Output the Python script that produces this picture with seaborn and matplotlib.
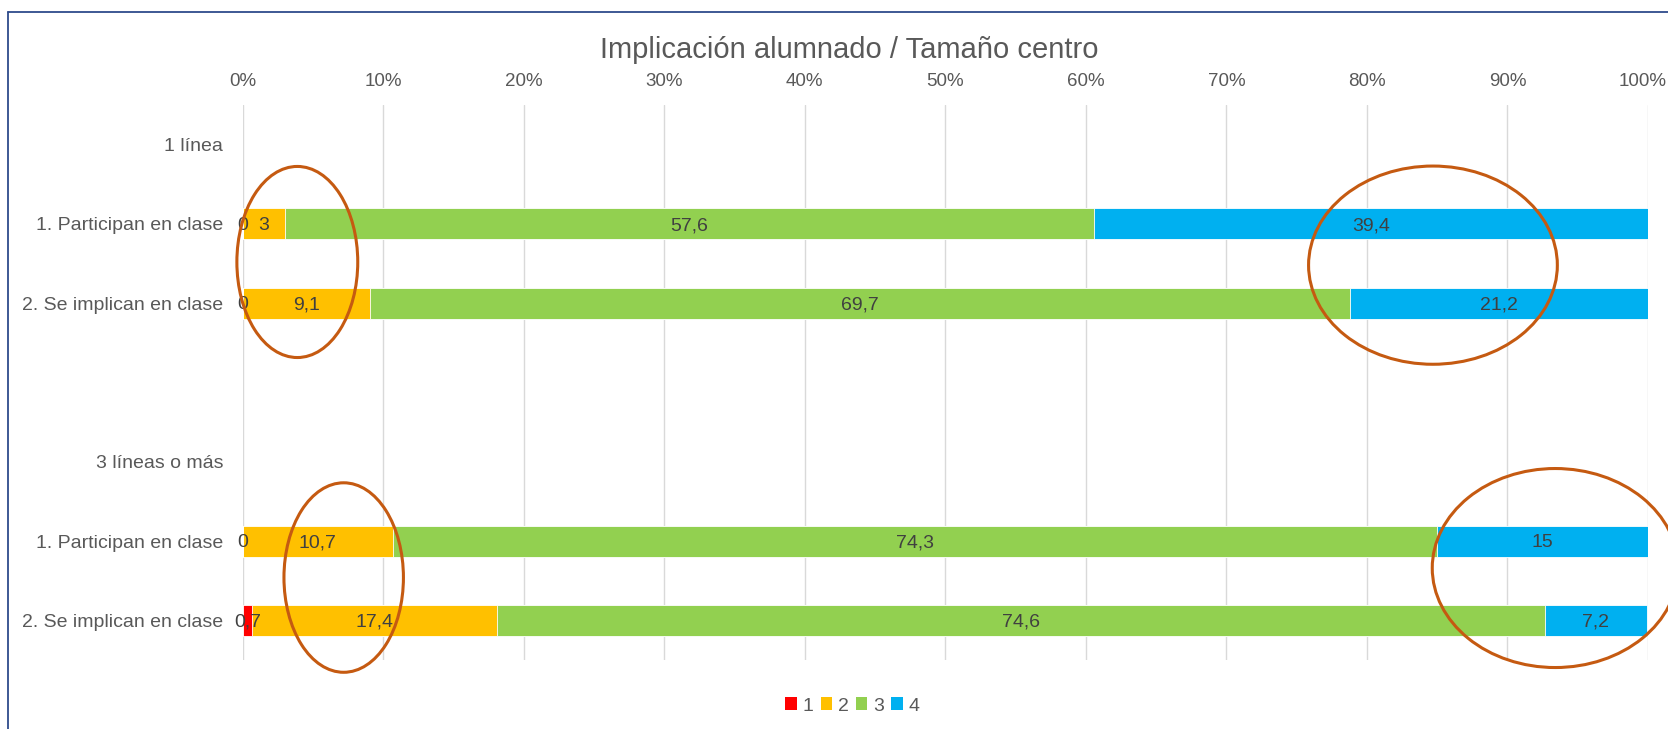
import numpy as np
import pandas as pd
import matplotlib.pyplot as plt
import matplotlib.transforms as mtransforms
import seaborn as sns
from matplotlib.patches import Ellipse, Patch
from matplotlib.lines import Line2D

# Data (percent of answers per level)
ROW_LABELS = ["1 línea", "1. Participan en clase", "2. Se implican en clase", "",
              "3 líneas o más", "1. Participan en clase", "2. Se implican en clase"]
LEVELS = ["1", "2", "3", "4"]
LEVEL_1 = [np.nan, 0, 0, np.nan, np.nan, 0, 0.7]
LEVEL_2 = [np.nan, 3, 9.1, np.nan, np.nan, 10.7, 17.4]
LEVEL_3 = [np.nan, 57.6, 69.7, np.nan, np.nan, 74.3, 74.6]
LEVEL_4 = [np.nan, 39.4, 21.2, np.nan, np.nan, 15, 7.2]
COLORS = ["#FF0000", "#FFC000", "#92D050", "#00B0F0"]

# highlight rings drawn over the chart (x in %, y in rows)
RINGS = [(3.9, 1.48, 8.6, 2.41), (84.7, 1.52, 17.7, 2.50),
         (7.2, 5.46, 8.5, 2.39), (93.4, 5.34, 17.5, 2.51)]

sns.set_theme(style="white")
plt.rcParams["font.family"] = ["Liberation Sans", "DejaVu Sans"]
GREY = "#595959"

vals = np.array([LEVEL_1, LEVEL_2, LEVEL_3, LEVEL_4])
cum = np.cumsum(vals, axis=0)  # empty header rows stay NaN -> no bar
df = pd.DataFrame({"row": range(len(ROW_LABELS))})
for i, lvl in enumerate(LEVELS):
    df["cum" + lvl] = cum[i]

fig = plt.figure(figsize=(16.68, 7.29), dpi=100)
ax = fig.add_axes([242.5 / 1668, 1 - 660 / 729, (1648 - 242.5) / 1668, 555 / 729])

# stacked bars: draw cumulative totals from the right-most level backwards
for i in reversed(range(len(LEVELS))):
    sns.barplot(data=df, x="cum" + LEVELS[i], y="row", orient="h", order=list(range(len(ROW_LABELS))),
                color=COLORS[i], saturation=1, width=0.39, errorbar=None,
                edgecolor="white", linewidth=0.6, ax=ax)

# data labels centred in each segment
for r in range(len(ROW_LABELS)):
    if np.isnan(vals[0, r]):
        continue
    for i in range(len(LEVELS)):
        v = vals[i, r]
        txt = f"{v:g}".replace(".", ",")
        ax.text(cum[i, r] - v / 2, r + 0.02, txt, ha="center", va="center",
                fontsize=14, color="#404040")

ax.set_xlim(0, 100)
ax.set_ylim(len(ROW_LABELS) - 0.5, -0.5)
ax.set_xticks(range(0, 101, 10))
ax.set_xticklabels([f"{t}%" for t in range(0, 101, 10)])
ax.set_yticks(range(len(ROW_LABELS)))
ax.set_yticklabels(ROW_LABELS)
ax.set_xlabel("")
ax.set_ylabel("")
ax.xaxis.tick_top()
ax.tick_params(axis="x", length=0, pad=11, labelsize=13.5, labelcolor=GREY)
ax.tick_params(axis="y", length=0, pad=14, labelsize=14, labelcolor=GREY)
ax.grid(axis="x", color="#D9D9D9", linewidth=1.0)
ax.grid(axis="y", visible=False)
ax.set_axisbelow(True)
sns.despine(ax=ax, left=True, bottom=True)

# nudge "100%" a little left so it stays inside the picture
last = ax.get_xticklabels()[-1]
last.set_transform(last.get_transform() + mtransforms.ScaledTranslation(-5 / 100, 0, fig.dpi_scale_trans))

for cx, cy, w, h in RINGS:
    ax.add_patch(Ellipse((cx, cy), w, h, fill=False, edgecolor="#C55A11",
                         linewidth=2.2, clip_on=False, zorder=5))

fig.text(0.509, 1 - 58 / 729, "Implicación alumnado / Tamaño centro",
         ha="center", va="baseline", fontsize=21, color=GREY)

handles = [Patch(facecolor=c, edgecolor="none") for c in COLORS]
fig.legend(handles, LEVELS, loc="center", bbox_to_anchor=(0.511, 1 - 706 / 729), ncol=4,
           frameon=False, fontsize=14, labelcolor=GREY, handlelength=0.6, handleheight=0.6,
           handletextpad=0.3, columnspacing=0.35)

# chart frame (only top and left edges are inside the picture)
fig.add_artist(Line2D([7.5 / 1668, 7.5 / 1668], [0, 1 - 12 / 729], color="#2E4B8B", linewidth=1.3))
fig.add_artist(Line2D([7.5 / 1668, 1], [1 - 12 / 729, 1 - 12 / 729], color="#2E4B8B", linewidth=1.3))

fig.savefig("out.png", dpi=100)
